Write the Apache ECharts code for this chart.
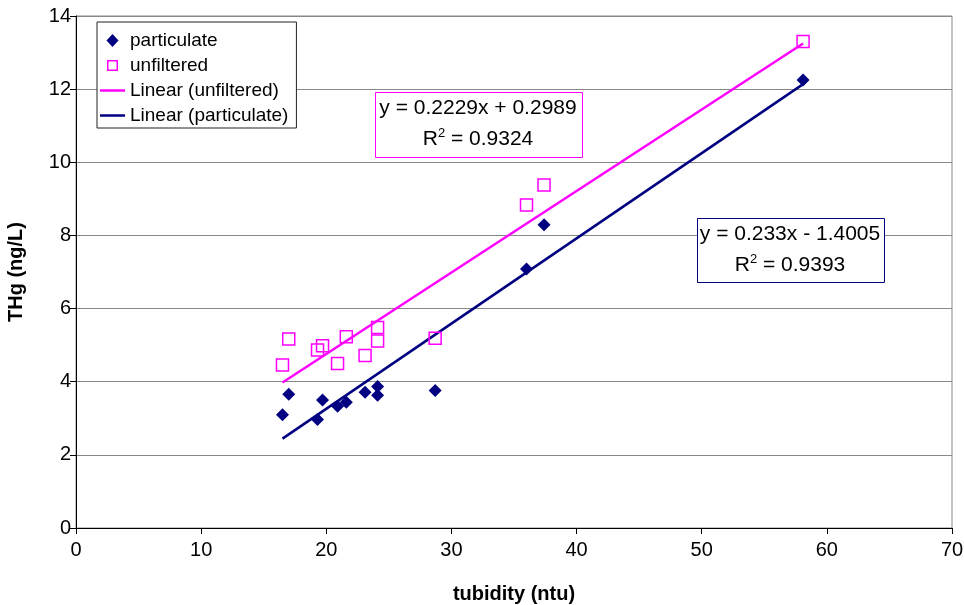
<!DOCTYPE html>
<html>
<head>
<meta charset="utf-8">
<script src="https://cdn.jsdelivr.net/npm/echarts@6/dist/echarts.min.js"></script>
<style>
html,body{margin:0;padding:0;background:#fff;}
#chart{width:964px;height:605px;}
</style>
</head>
<body>
<div id="chart"></div>
<script>
// turbidity (ntu)
var turbidity = [16.5, 17.0, 19.3, 19.7, 20.9, 21.6, 23.1, 24.1, 24.1, 28.7, 36.0, 37.4, 58.1];
// THg particulate (ng/L)
var particulate = [3.10, 3.66, 2.97, 3.50, 3.33, 3.44, 3.71, 3.87, 3.63, 3.76, 7.08, 8.29, 12.25];
// THg unfiltered (ng/L)
var unfiltered = [4.46, 5.17, 4.87, 4.98, 4.50, 5.23, 4.72, 5.48, 5.11, 5.19, 8.83, 9.38, 13.30];
// linear trend coefficients [slope, intercept]
var fitUnfiltered = [0.2229, 0.2989];
var fitParticulate = [0.233, -1.4005];
var eqUnfiltered = ['y = 0.2229x + 0.2989', '0.9324'];
var eqParticulate = ['y = 0.233x - 1.4005', '0.9393'];
var xTicks = [0, 10, 20, 30, 40, 50, 60, 70];
var yTicks = [0, 2, 4, 6, 8, 10, 12, 14];

var xMin = Math.min.apply(null, turbidity), xMax = Math.max.apply(null, turbidity);
function trend(c){ return [[xMin, c[0]*xMin + c[1]], [xMax, c[0]*xMax + c[1]]]; }
function pairs(ys){ return turbidity.map(function(x,i){ return [x, ys[i]]; }); }

var FONT = 'Liberation Sans, Arial, sans-serif';
var NAVY = '#000080', MAG = '#FF00FF';
var FRAME = 'M0,0 M25,14 ';
var iconDiamond = 'path://' + FRAME + 'M12.5,0.5 L18.5,7 L12.5,13.5 L6.5,7 Z';
var iconSquare = 'path://' + FRAME + 'M7,1.5 L18,1.5 L18,12.5 L7,12.5 Z M8.5,3 L8.5,11 L16.5,11 L16.5,3 Z';
var iconLine = 'path://' + FRAME + 'M0,5.75 L25,5.75 L25,8.25 L0,8.25 Z';

function eqText(eq){
  return '{t|' + eq[0] + '}\n{t|R}{s|2}{t| = ' + eq[1] + '}';
}
var richEq = {
  t: {fontSize: 21, fontFamily: FONT, color: '#000', lineHeight: 31, align: 'center'},
  s: {fontSize: 13, fontFamily: FONT, color: '#000', lineHeight: 31, padding: [0,0,12,0], align: 'center'}
};

var chart = echarts.init(document.getElementById('chart'), null, {renderer: 'canvas'});
chart.setOption({
  animation: false,
  backgroundColor: '#fff',
  grid: {left: 76, right: 12, top: 16, bottom: 77, show: true, borderColor: '#888', borderWidth: 1,
         containLabel: false, outerBoundsMode: 'none'},
  xAxis: {
    type: 'value', min: xTicks[0], max: xTicks[xTicks.length-1], interval: 10,
    name: 'tubidity (ntu)', nameLocation: 'middle', nameGap: 56,
    nameTextStyle: {fontFamily: FONT, fontWeight: 'bold', fontSize: 20, color: '#000'},
    axisLine: {show: true, onZero: false, lineStyle: {color: '#000', width: 1}},
    axisTick: {show: true, inside: false, length: 6, lineStyle: {color: '#000'}},
    axisLabel: {fontFamily: FONT, fontSize: 20, color: '#000', margin: 12},
    splitLine: {show: false}
  },
  yAxis: {
    type: 'value', min: yTicks[0], max: yTicks[yTicks.length-1], interval: 2,
    name: 'THg (ng/L)', nameLocation: 'middle', nameGap: 50,
    nameTextStyle: {fontFamily: FONT, fontWeight: 'bold', fontSize: 20, color: '#000'},
    axisLine: {show: true, onZero: false, lineStyle: {color: '#000', width: 1}},
    axisTick: {show: true, inside: false, length: 6, lineStyle: {color: '#000'}},
    axisLabel: {fontFamily: FONT, fontSize: 20, color: '#000', margin: 5},
    splitLine: {show: true, lineStyle: {color: '#888', width: 1}}
  },
  legend: {
    orient: 'vertical', left: 97, top: 22,
    backgroundColor: '#fff', borderColor: '#222', borderWidth: 1,
    padding: [9, 8, 3, 3], itemGap: 6, itemWidth: 25, itemHeight: 14,
    textStyle: {fontFamily: FONT, fontSize: 19, color: '#000'},
    data: [
      {name: 'particulate', icon: iconDiamond, itemStyle: {color: NAVY, borderWidth: 0}},
      {name: 'unfiltered', icon: iconSquare, itemStyle: {color: MAG, borderWidth: 0}},
      {name: 'Linear (unfiltered)', icon: iconLine, itemStyle: {color: MAG, borderWidth: 0}},
      {name: 'Linear (particulate)', icon: iconLine, itemStyle: {color: NAVY, borderWidth: 0}}
    ]
  },
  series: [
    {
      name: 'Linear (unfiltered)', type: 'line', data: trend(fitUnfiltered),
      symbol: 'none', lineStyle: {color: MAG, width: 2.5}, itemStyle: {color: MAG}, z: 2
    },
    {
      name: 'Linear (particulate)', type: 'line', data: trend(fitParticulate),
      symbol: 'none', lineStyle: {color: NAVY, width: 2.5}, itemStyle: {color: NAVY}, z: 2
    },
    {
      name: 'unfiltered', type: 'scatter', data: pairs(unfiltered),
      symbol: 'rect', symbolSize: 12,
      itemStyle: {color: 'rgba(255,255,255,0)', borderColor: MAG, borderWidth: 1.5, opacity: 1}, z: 3
    },
    {
      name: 'particulate', type: 'scatter', data: pairs(particulate),
      symbol: 'diamond', symbolSize: 13,
      itemStyle: {color: NAVY, opacity: 1}, z: 4
    }
  ],
  graphic: [
    {type: 'rect', left: 375, top: 92, z: 10,
     shape: {width: 207, height: 65},
     style: {fill: '#fff', stroke: MAG, lineWidth: 1}},
    {type: 'text', x: 478, y: 93, z: 11,
     style: {text: eqText(eqUnfiltered), rich: richEq, align: 'center', verticalAlign: 'top'}},
    {type: 'rect', left: 697, top: 218, z: 10,
     shape: {width: 187, height: 64},
     style: {fill: '#fff', stroke: NAVY, lineWidth: 1}},
    {type: 'text', x: 790, y: 219, z: 11,
     style: {text: eqText(eqParticulate), rich: richEq, align: 'center', verticalAlign: 'top'}}
  ]
});
</script>
</body>
</html>
